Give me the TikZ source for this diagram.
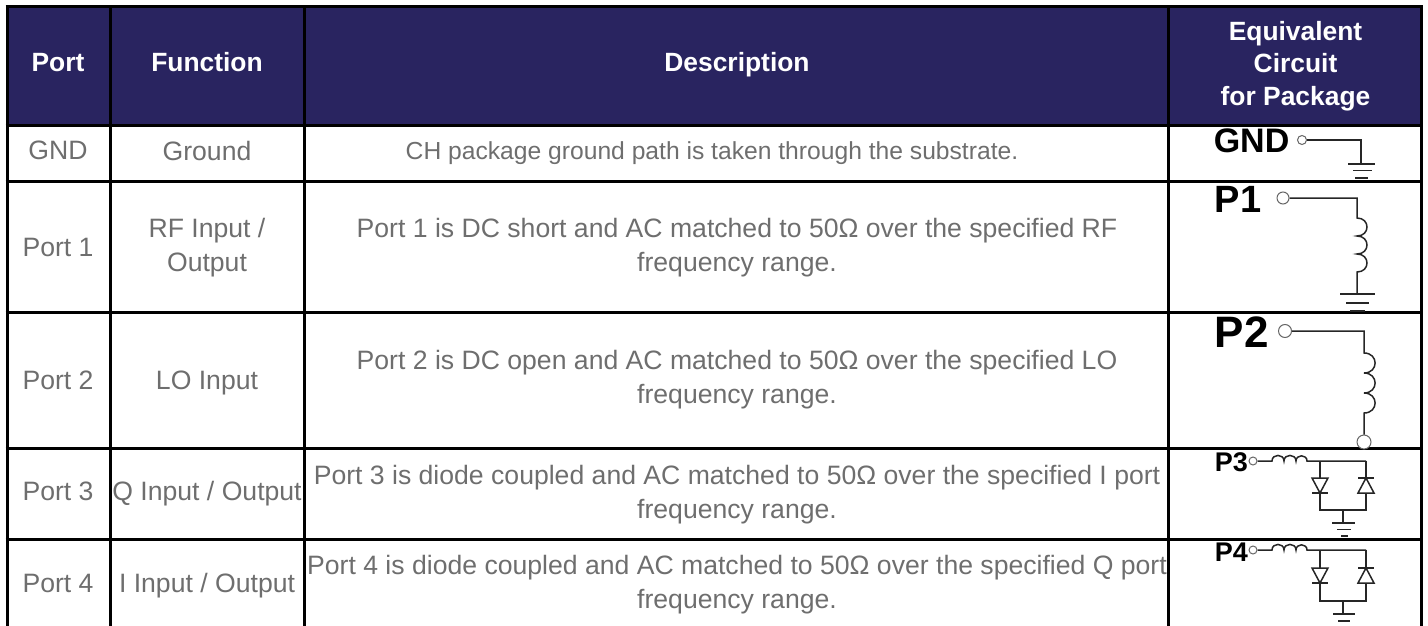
\documentclass[tikz,border=0pt]{standalone}
\usepackage{fontspec}
\setmainfont{Liberation Sans}
\usepackage{xcolor}
\usetikzlibrary{positioning}
\definecolor{headblue}{HTML}{292460}
\definecolor{cellgray}{HTML}{6E6E6E}
\begin{document}
\begin{tikzpicture}[x=1pt,y=-1pt,
head node/.style={text=white,align=center,inner sep=0pt,font=\fontsize{26.4}{32.5}\selectfont\bfseries},
cell node/.style={text=cellgray,align=center,inner sep=0pt,font=\fontsize{26.6}{34}\selectfont},
pin node/.style={text=black,inner sep=0pt,anchor=west,font=\bfseries},
term node/.style={circle,draw=black!60,fill=white,inner sep=0pt,line width=1pt},
grid line/.style={line width=3pt,black},
wire/.style={line width=1.5pt,black!85}]
\useasboundingbox (0,0) rectangle (1428,626);
\fill[headblue] (7,7) rectangle (1421,125);
\begin{scope}
\draw[grid line] (5.5,7) -- (1422.5,7);
\draw[grid line] (5.5,125) -- (1422.5,125);
\draw[grid line] (5.5,181) -- (1422.5,181);
\draw[grid line] (5.5,312.5) -- (1422.5,312.5);
\draw[grid line] (5.5,448) -- (1422.5,448);
\draw[grid line] (5.5,539) -- (1422.5,539);
\draw[grid line] (7,5.5) -- (7,626);
\draw[grid line] (110,5.5) -- (110,626);
\draw[grid line] (304,5.5) -- (304,626);
\draw[grid line] (1168,5.5) -- (1168,626);
\draw[grid line] (1421,5.5) -- (1421,626);
\end{scope}
\begin{scope}
\node[head node] (hPort) at (58,62.5) {Port};
\node[head node] (hFunc) at (207,62.5) {Function};
\node[head node] (hDesc) at (737,65) {Description};
\node[head node] (hEquiv) at (1295.5,65.8) {Equivalent\\Circuit\\for Package};
\node[cell node] (pGnd) at (58,150.5) {GND};
\node[cell node] (fGnd) at (207,150.5) {Ground};
\node[cell node,font=\fontsize{24.65}{34}\selectfont] (dGnd) at (712,153) {CH package ground path is taken through the substrate.};
\node[cell node] (p1) at (58,247) {Port 1};
\node[cell node] (f1) at (207,247.8) {RF Input /\\Output};
\node[cell node] (d1) at (737,247.8) {Port 1 is DC short and AC matched to 50Ω over the specified RF\\frequency range.};
\node[cell node] (p2) at (58,380) {Port 2};
\node[cell node] (f2) at (207,382.6) {LO Input};
\node[cell node] (d2) at (737,380) {Port 2 is DC open and AC matched to 50Ω over the specified LO\\frequency range.};
\node[cell node] (p3) at (58,491.5) {Port 3};
\node[cell node] (f3) at (207,494) {Q Input / Output};
\node[cell node] (d3) at (737,495) {Port 3 is diode coupled and AC matched to 50Ω over the specified I port\\frequency range.};
\node[cell node] (p4) at (58,583.5) {Port 4};
\node[cell node] (f4) at (207,586) {I Input / Output};
\node[cell node] (d4) at (737,585) {Port 4 is diode coupled and AC matched to 50Ω over the specified Q port\\frequency range.};
\end{scope}
\begin{scope}[every path/.style={wire}]
\node[pin node,font=\fontsize{34}{34}\selectfont\bfseries] (lGnd) at (1213,141) {GND};
\node[term node,minimum size=9pt] (tGnd) at (1302,140) {};
\coordinate (gGnd) at (1361,164);
\draw (tGnd) -| (gGnd);
\draw (1348,164) -- (1375,164);
\draw (1353,170.5) -- (1372,170.5);
\draw (1355,178) -- (1368,178);
\node[pin node,font=\fontsize{38}{38}\selectfont\bfseries] (lP1) at (1214,199) {P1};
\node[term node,minimum size=12pt] (tP1) at (1283,198) {};
\coordinate (cP1) at (1357,218);
\coordinate (gP1) at (1357,294);
\draw (tP1) -| (cP1) to[out=0,in=0,looseness=1.9] ++(0,18) to[out=0,in=0,looseness=1.9] ++(0,18) to[out=0,in=0,looseness=1.9] ++(0,18) -- (gP1);
\draw (1340,294) -- (1375,294);
\draw (1346,303) -- (1369,303);
\draw (1350,311) -- (1365,311);
\node[pin node,font=\fontsize{44}{44}\selectfont\bfseries] (lP2) at (1214,332) {P2};
\node[term node,minimum size=13pt] (tP2) at (1285,331) {};
\node[term node,minimum size=14pt] (bP2) at (1364,442) {};
\coordinate (cP2) at (1364,353);
\draw (tP2) -| (cP2) to[out=0,in=0,looseness=1.9] ++(0,20) to[out=0,in=0,looseness=1.9] ++(0,20) to[out=0,in=0,looseness=1.9] ++(0,20) -- (bP2);
\node[pin node,font=\fontsize{27}{27}\selectfont\bfseries] (lP3) at (1214,462) {P3};
\node[term node,minimum size=8pt] (tP3) at (1253,461) {};
\coordinate (cP3) at (1272,461);
\coordinate (jP3) at (1320,461);
\coordinate (rP3) at (1366,461);
\coordinate (bP3) at (1343,510);
\coordinate (gP3) at (1343,523);
\draw (tP3) -- (cP3) to[out=90,in=90,looseness=1.6] ++(12,0) to[out=90,in=90,looseness=1.6] ++(12,0) to[out=90,in=90,looseness=1.6] ++(11,0) -- (jP3) -- (rP3);
\draw (jP3) |- (bP3) -| (rP3);
\draw[fill=white] (1312,478) -- (1328,478) -- (1320,493) -- cycle;
\draw (1312,493) -- (1328,493);
\draw[fill=white] (1358,493) -- (1374,493) -- (1366,478) -- cycle;
\draw (1358,478) -- (1374,478);
\draw (bP3) -- (gP3);
\draw (1332,523) -- (1355,523);
\draw (1337,529.5) -- (1351,529.5);
\draw (1341,536) -- (1348,536);
\node[pin node,font=\fontsize{27}{27}\selectfont\bfseries] (lP4) at (1214,552) {P4};
\node[term node,minimum size=8pt] (tP4) at (1253,550) {};
\coordinate (cP4) at (1272,550);
\coordinate (jP4) at (1320,550);
\coordinate (rP4) at (1366,550);
\coordinate (bP4) at (1343,601);
\coordinate (gP4) at (1343,614);
\draw (tP4) -- (cP4) to[out=90,in=90,looseness=1.6] ++(12,0) to[out=90,in=90,looseness=1.6] ++(12,0) to[out=90,in=90,looseness=1.6] ++(11,0) -- (jP4) -- (rP4);
\draw (jP4) |- (bP4) -| (rP4);
\draw[fill=white] (1312,568) -- (1328,568) -- (1320,583) -- cycle;
\draw (1312,583) -- (1328,583);
\draw[fill=white] (1358,583) -- (1374,583) -- (1366,568) -- cycle;
\draw (1358,568) -- (1374,568);
\draw (bP4) -- (gP4);
\draw (1333,614) -- (1355,614);
\draw (1338,621) -- (1350,621);
\end{scope}
\end{tikzpicture}
\end{document}
